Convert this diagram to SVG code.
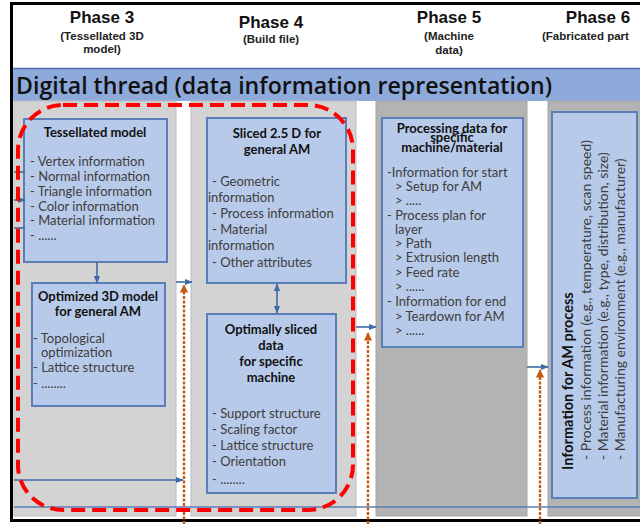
<svg xmlns="http://www.w3.org/2000/svg" width="640" height="524" viewBox="0 0 640 524">
<defs>
<marker id="ab" viewBox="0 0 10 10" refX="9" refY="5" markerWidth="5" markerHeight="5" orient="auto-start-reverse"><path d="M0,1 L10,5 L0,9 z" fill="#3f6aa3"/></marker>
<marker id="ao" viewBox="0 0 10 10" refX="9" refY="5" markerWidth="3.5" markerHeight="3.5" orient="auto"><path d="M0,0 L10,5 L0,10 z" fill="#c55a11"/></marker>
</defs>
<style>
.col{fill:#d3d3d3;stroke:#bdbdbd;stroke-width:1}
.colD{fill:#b3b3b3;stroke:#a5a5a5;stroke-width:1}
.box{fill:#b8cae9;stroke:#5a7fb8;stroke-width:2}
.ph{font-family:"Liberation Sans",Arial,sans-serif;font-weight:bold;font-size:17px;fill:#111;text-anchor:middle}
.phs{font-family:"Liberation Sans",Arial,sans-serif;font-weight:bold;font-size:11.5px;fill:#222;text-anchor:middle}
.ttl{font-family:Lato,"Open Sans",sans-serif;font-weight:bold;font-size:13px;fill:#111;text-anchor:middle}
.itm{font-family:Lato,"Open Sans",sans-serif;font-size:13px;fill:#3d3d3d}
.itm6{font-family:Lato,"Open Sans",sans-serif;font-size:14px;fill:#3d3d3d}
.ttl6{font-family:Lato,"Open Sans",sans-serif;font-weight:bold;font-size:14.5px;fill:#111}
.bl{stroke:#3f6aa3;stroke-width:1.6;fill:none}
.or{stroke:#c55a11;stroke-width:2.4;stroke-dasharray:3 1.5;fill:none}
</style>
<rect width="640" height="524" fill="#ffffff"/>
<g id="header">
<text class="ph" x="102" y="23">Phase 3</text>
<text class="phs" x="102" y="40">(Tessellated 3D</text>
<text class="phs" x="102" y="53">model)</text>
<text class="ph" x="271" y="28">Phase 4</text>
<text class="phs" x="271" y="43">(Build file)</text>
<text class="ph" x="449" y="23">Phase 5</text>
<text class="phs" x="449" y="40">(Machine</text>
<text class="phs" x="449" y="54">data)</text>
<text class="ph" x="598" y="23">Phase 6</text>
<text class="phs" x="542" y="40" style="text-anchor:start">(Fabricated part</text>
</g>
<g id="banner">
<rect x="12" y="68" width="630" height="33" fill="#8eaadb"/>
<line x1="12" y1="68.5" x2="640" y2="68.5" stroke="#4f6fa8" stroke-width="1.5"/>
<text x="16" y="94" font-family="'Open Sans',Lato,sans-serif" font-weight="600" font-size="23" fill="#111" textLength="536" lengthAdjust="spacingAndGlyphs">Digital thread (data information representation)</text>
</g>
<g id="columns">
<rect class="col" x="14" y="101" width="162" height="415"/>
<rect class="col" x="191" y="101" width="165" height="415"/>
<rect class="colD" x="376" y="101" width="151" height="415"/>
<rect class="colD" x="548" y="101" width="95" height="415"/>
</g>
<g id="frame">
<path d="M11.5,2 V522 M10,3.5 H640 M10,520.5 H640" stroke="#000" stroke-width="3" fill="none"/>
</g>
<g id="tessellated">
<rect class="box" x="24" y="119" width="143" height="143"/>
<text class="ttl" x="95" y="137">Tessellated model</text>
<text class="itm" x="30" y="166">- Vertex information</text>
<text class="itm" x="30" y="181">- Normal information</text>
<text class="itm" x="30" y="196">- Triangle information</text>
<text class="itm" x="30" y="211">- Color information</text>
<text class="itm" x="30" y="225">- Material information</text>
<text class="itm" x="30" y="240">- ......</text>
</g>
<g id="optimized">
<rect class="box" x="32" y="283" width="133" height="123"/>
<text class="ttl" x="98" y="301">Optimized 3D model</text>
<text class="ttl" x="98" y="316">for general AM</text>
<text class="itm" x="33" y="343">- Topological</text>
<text class="itm" x="41" y="357">optimization</text>
<text class="itm" x="33" y="372">- Lattice structure</text>
<text class="itm" x="33" y="388" font-size="9">- ........</text>
</g>
<g id="sliced">
<rect class="box" x="207" y="118" width="139" height="165"/>
<text class="ttl" x="277" y="138">Sliced 2.5 D for</text>
<text class="ttl" x="277" y="154">general AM</text>
<text class="itm" x="212" y="186">- Geometric</text>
<text class="itm" x="208" y="202">information</text>
<text class="itm" x="212" y="218">- Process information</text>
<text class="itm" x="212" y="234">- Material</text>
<text class="itm" x="208" y="250">information</text>
<text class="itm" x="212" y="267">- Other attributes</text>
</g>
<g id="optimally">
<rect class="box" x="207" y="314" width="129" height="179"/>
<text class="ttl" x="271" y="334">Optimally sliced</text>
<text class="ttl" x="271" y="350">data</text>
<text class="ttl" x="271" y="366">for specific</text>
<text class="ttl" x="271" y="382">machine</text>
<text class="itm" x="212" y="418">- Support structure</text>
<text class="itm" x="212" y="434">- Scaling factor</text>
<text class="itm" x="212" y="450">- Lattice structure</text>
<text class="itm" x="212" y="466">- Orientation</text>
<text class="itm" x="212" y="484" font-size="9">- ........</text>
</g>
<g id="processing">
<rect class="box" x="382" y="118" width="141" height="229"/>
<text class="ttl" x="452" y="133">Processing data for</text>
<text class="ttl" x="452" y="142">specific</text>
<text class="ttl" x="452" y="152">machine/material</text>
<text class="itm" x="387" y="177">-Information for start</text>
<text class="itm" x="395" y="191">&gt; Setup for AM</text>
<text class="itm" x="395" y="205">&gt; .....</text>
<text class="itm" x="387" y="220">- Process plan for</text>
<text class="itm" x="395" y="234">layer</text>
<text class="itm" x="395" y="248">&gt; Path</text>
<text class="itm" x="395" y="262">&gt; Extrusion length</text>
<text class="itm" x="395" y="277">&gt; Feed rate</text>
<text class="itm" x="395" y="291">&gt; ......</text>
<text class="itm" x="387" y="306">- Information for end</text>
<text class="itm" x="395" y="321">&gt; Teardown for AM</text>
<text class="itm" x="395" y="335">&gt; ......</text>
</g>
<g id="amprocess">
<rect class="box" x="552" y="112" width="85" height="386"/>
<text class="ttl6" transform="translate(573,470) rotate(-90)">Information for AM process</text>
<text class="itm6" transform="translate(591,460) rotate(-90)">- Process information (e.g., temperature, scan speed)</text>
<text class="itm6" transform="translate(608,460) rotate(-90)">- Material information (e.g., type, distribution, size)</text>
<text class="itm6" transform="translate(625,460) rotate(-90)">- Manufacturing environment (e.g., manufacturer)</text>
</g>
<g id="connectors">
<line class="bl" x1="14" y1="172" x2="25" y2="172"/>
<line class="bl" x1="14" y1="200" x2="25" y2="200" marker-end="url(#ab)"/>
<line class="bl" x1="14" y1="228" x2="25" y2="228"/>
<line class="bl" x1="97" y1="262" x2="97" y2="283" marker-end="url(#ab)"/>
<line class="bl" x1="176" y1="282" x2="192" y2="282" marker-end="url(#ab)"/>
<line class="bl" x1="277" y1="284" x2="277" y2="313" marker-start="url(#ab)" marker-end="url(#ab)"/>
<line class="bl" x1="356" y1="327" x2="376" y2="327" marker-end="url(#ab)"/>
<line class="bl" x1="527" y1="367" x2="548" y2="367" marker-end="url(#ab)"/>
<line class="bl" x1="14" y1="480" x2="183" y2="480" marker-end="url(#ab)"/>
<line x1="14" y1="507" x2="640" y2="507" stroke="#5a7db5" stroke-width="1.5"/>
<line class="or" x1="184" y1="524" x2="184" y2="285" marker-end="url(#ao)"/>
<line class="or" x1="368" y1="524" x2="368" y2="333" marker-end="url(#ao)"/>
<line class="or" x1="540" y1="524" x2="540" y2="370" marker-end="url(#ao)"/>
</g>
<g id="highlight">
<rect x="18" y="105" width="335" height="405" rx="45" ry="45" fill="none" stroke="#ff0000" stroke-width="4" stroke-dasharray="14 7"/>
</g>
</svg>
